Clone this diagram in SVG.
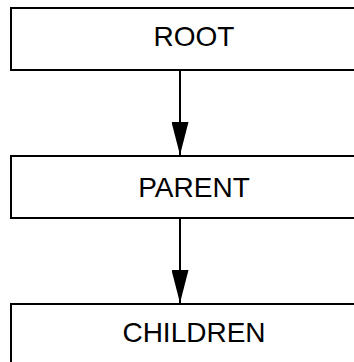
<svg xmlns="http://www.w3.org/2000/svg" width="354" height="362" viewBox="0 0 354 362">
  <style>
    .box { fill: #ffffff; stroke: #000000; stroke-width: 2; }
    .label { font-family: "Liberation Sans", Arial, sans-serif; font-size: 28px; fill: #000000; text-anchor: middle; }
    .edge { stroke: #000000; stroke-width: 2; fill: none; marker-end: url(#arrow); }
  </style>
  <defs>
    <marker id="arrow" markerUnits="userSpaceOnUse" viewBox="0 0 33 17" markerWidth="33" markerHeight="17" refX="33" refY="8.5" orient="auto">
      <path d="M0,0 L33,8.5 L0,17 Z" fill="#000000"/>
    </marker>
  </defs>
  <rect width="354" height="362" fill="#ffffff"/>
  <g id="connectors">
    <path class="edge" d="M180,70 L180,155"/>
    <path class="edge" d="M180,218 L180,303"/>
  </g>
  <g id="node-root">
    <rect class="box" x="11" y="8" width="364" height="62"/>
    <text class="label" x="194" y="46">ROOT</text>
  </g>
  <g id="node-parent">
    <rect class="box" x="11" y="156" width="364" height="62"/>
    <text class="label" x="194" y="197">PARENT</text>
  </g>
  <g id="node-children">
    <rect class="box" x="11" y="304" width="364" height="62"/>
    <text class="label" x="194" y="342">CHILDREN</text>
  </g>
</svg>
